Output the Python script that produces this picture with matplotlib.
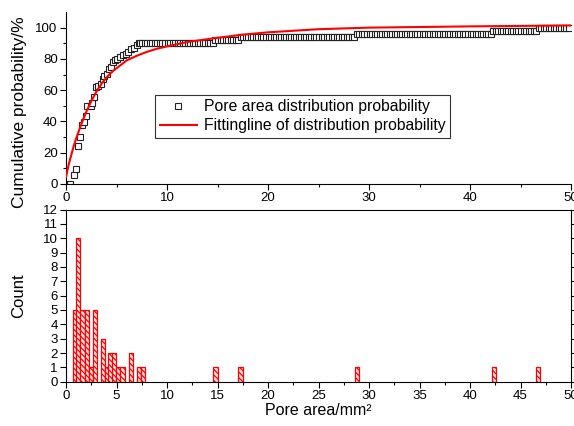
import numpy as np
import matplotlib
matplotlib.use("Agg")
import matplotlib.pyplot as plt
from matplotlib.ticker import MultipleLocator

plt.rcParams['font.family'] = ['Liberation Sans', 'DejaVu Sans']
plt.rcParams['hatch.linewidth'] = 0.9
plt.rcParams['hatch.color'] = 'red'

# ---- histogram data (bar centres, counts) ----
bar_centers = [0.87, 1.22, 1.64, 2.07, 2.47, 2.86, 3.65, 4.03, 4.41, 4.78,
               5.17, 5.59, 6.43, 7.22, 7.64, 14.8, 17.28, 28.8, 42.4, 46.77]
bar_counts = [5, 10, 5, 5, 1, 5, 3, 1, 2, 2, 1, 1, 2, 1, 1, 1, 1, 1, 1, 1]
bar_width = 0.42

cdf_rise_x = [0.15, 0.4, 0.79, 0.96, 1.22, 1.39, 1.55, 1.78, 1.98, 2.11, 2.44, 2.6,
              2.77, 2.97, 3.2, 3.43, 3.63, 3.8, 4.03, 4.26, 4.42, 4.69, 4.85, 5.08,
              5.35, 5.68, 5.9, 6.17, 6.4, 6.73, 7.0, 7.23]
cdf_rise_y = [0, 0, 6, 9.7, 24, 30, 38, 39.7, 43.5, 50, 50, 52,
              55.4, 61.8, 62.5, 64, 67, 69.3, 70.4, 73.6, 74.7, 78, 79, 80,
              81, 82.2, 83.3, 84.7, 86.5, 87, 88.6, 90]
# plateau part: step levels and where each step begins
step_starts = [7.3, 14.7, 17.2, 28.7, 42.3, 46.7]
step_levels = [90, 92, 94, 96, 98, 100]
plateau_spacing = 0.25

fit_x = [0, 0.25, 0.5, 0.75, 1, 1.5, 2, 2.5, 3, 3.5, 4, 4.5, 5, 6, 7, 8, 9, 10,
         12, 15, 17.5, 20, 25, 30, 35, 40, 45, 50]
fit_y = [4.5, 12, 18, 24, 29, 38, 46, 53, 59, 64, 68, 71.5, 74, 79, 82, 84.5, 86.5, 88,
         90.8, 93.5, 95.5, 97, 99, 100, 100.4, 100.8, 101.1, 101.4]

fig = plt.figure(figsize=(5.74, 4.26), dpi=100)
W, H = 574, 426
L, R = 66, 571
ax1 = fig.add_axes([L / W, (H - 184) / H, (R - L) / W, (184 - 12) / H])
ax2 = fig.add_axes([L / W, (H - 381.7) / H, (R - L) / W, (381.7 - 209.5) / H])

# top panel
px = np.arange(step_starts[0], 50.01, plateau_spacing)
py = np.array(step_levels)[np.searchsorted(step_starts, px, side='right') - 1]
mx = np.concatenate([cdf_rise_x, px])
my = np.concatenate([cdf_rise_y, py])
ax1.plot(mx, my, ls='none', marker='s', ms=4.6, mfc='white', mec='#222222', mew=0.8,
         label='Pore area distribution probability', zorder=2)
ax1.plot(fit_x, fit_y, color='red', lw=1.5, label='Fittingline of distribution probability', zorder=3)
ax1.set_xlim(0, 50)
ax1.set_ylim(0, 110)
ax1.xaxis.set_major_locator(MultipleLocator(10))
ax1.xaxis.set_minor_locator(MultipleLocator(5))
ax1.set_yticks([0, 20, 40, 60, 80, 100])
ax1.set_yticks([10, 30, 50, 70, 90], minor=True)
for s in ['top', 'right']:
    ax1.spines[s].set_visible(False)
ax1.tick_params(which='major', direction='out', length=4, width=0.8, labelsize=9.5, pad=2)
ax1.tick_params(which='minor', direction='out', length=2.5, width=0.8)
ax1.set_ylabel('Cumulative probability/%', fontsize=12.5, labelpad=3)
ax1.yaxis.set_label_coords(-0.078, 0.42)
leg = ax1.legend(loc='upper left', bbox_to_anchor=(0.176, 0.52), borderaxespad=0,
                 fontsize=11.3, frameon=True, fancybox=False, edgecolor='black',
                 handlelength=2.4, handletextpad=0.4, labelspacing=0.25,
                 borderpad=0.3, markerscale=0.9)
leg.get_frame().set_linewidth(0.8)

# bottom panel
ax2.bar(bar_centers, bar_counts, width=bar_width, facecolor='#ffe6e6', edgecolor='red',
        hatch='\\\\\\\\\\\\', linewidth=0.9)
ax2.set_xlim(0, 50)
ax2.set_ylim(0, 12)
ax2.xaxis.set_major_locator(MultipleLocator(5))
ax2.xaxis.set_minor_locator(MultipleLocator(2.5))
ax2.yaxis.set_major_locator(MultipleLocator(1))
ax2.tick_params(which='major', direction='out', length=4, width=0.8, labelsize=9.5, pad=2)
ax2.tick_params(which='minor', direction='out', length=2.5, width=0.8)
ax2.tick_params(axis='y', which='major', right=True, labelright=False)
ax2.set_ylabel('Count', fontsize=12, labelpad=3)
ax2.yaxis.set_label_coords(-0.078, 0.5)
ax2.set_xlabel('Pore area/mm\u00b2', fontsize=11.5, labelpad=1)
for sp in ax2.spines.values():
    sp.set_linewidth(0.8)
for sp in ax1.spines.values():
    sp.set_linewidth(0.8)

fig.savefig('out.png', dpi=100)
